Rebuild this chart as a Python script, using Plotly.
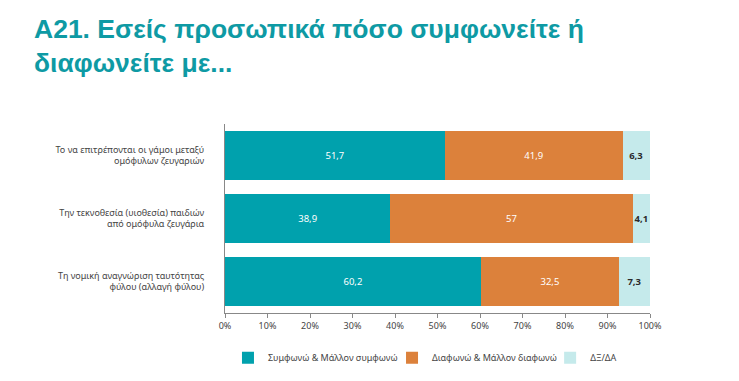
import plotly.graph_objects as go

categories = [
    "Το να επιτρέπονται οι γάμοι μεταξύ<br>ομόφυλων ζευγαριών",
    "Την τεκνοθεσία (υιοθεσία) παιδιών<br>από ομόφυλα ζευγάρια",
    "Τη νομική αναγνώριση ταυτότητας<br>φύλου (αλλαγή φύλου)",
]
agree = [51.7, 38.9, 60.2]
disagree = [41.9, 57.0, 32.5]
dkna = [6.3, 4.1, 7.3]
series_names = ["Συμφωνώ & Μάλλον συμφωνώ", "Διαφωνώ & Μάλλον διαφωνώ", "ΔΞ/ΔΑ"]
tick_vals = [0, 10, 20, 30, 40, 50, 60, 70, 80, 90, 100]
tick_text = ["0%", "10%", "20%", "30%", "40%", "50%", "60%", "70%", "80%", "90%", "100%"]

colors = ["#00a1ad", "#dc813b", "#c5eaeb"]
text_colors = ["white", "white", "#2b2b2b"]
bold = [False, False, True]
legend_ids = ["legend", "legend2", "legend3"]
legend_x = [0.007, 0.393, 0.765]


def fmt(v, b):
    s = f"{v:g}".replace(".", ",")
    return f"<b>{s}</b>" if b else s


fig = go.Figure()
for vals, name, col, tc, b, lg in zip([agree, disagree, dkna], series_names, colors,
                                       text_colors, bold, legend_ids):
    fig.add_trace(go.Bar(
        y=categories, x=vals, name=name, orientation="h",
        marker=dict(color=col, line=dict(width=0)),
        text=[fmt(v, b) for v in vals], textposition="inside", textangle=0,
        insidetextanchor="middle", constraintext="none",
        textfont=dict(color=tc, size=9.5, family="Noto Sans"),
        hoverinfo="skip", legend=lg,
    ))

legend_common = dict(orientation="h", y=-0.16, yanchor="top", xanchor="left",
                     font=dict(size=9, color="#444444"), itemwidth=30,
                     bgcolor="rgba(0,0,0,0)")
fig.update_layout(
    barmode="stack",
    bargap=0.22,
    width=739, height=381,
    margin=dict(l=217, r=97, t=116, b=76, autoexpand=False),
    paper_bgcolor="white", plot_bgcolor="white",
    font=dict(family="Noto Sans", color="#444444", size=9),
    showlegend=True,
    legend=dict(x=legend_x[0], **legend_common),
    legend2=dict(x=legend_x[1], **legend_common),
    legend3=dict(x=legend_x[2], **legend_common),
)
fig.update_xaxes(range=[0, 100], tickvals=tick_vals, ticktext=tick_text,
                 showgrid=False, zeroline=False, showline=True, linecolor="#888888",
                 linewidth=1, ticks="outside", ticklen=4, tickcolor="#888888",
                 tickfont=dict(size=9, color="#444444"), fixedrange=True)
fig.update_yaxes(autorange="reversed", showgrid=False, showline=True,
                 linecolor="#888888", linewidth=1, ticks="", ticklabelstandoff=18,
                 tickfont=dict(size=9, color="#444444"), fixedrange=True)

fig.add_annotation(
    text="<b>Α21. Εσείς προσωπικά πόσο συμφωνείτε ή<br>διαφωνείτε με...</b>",
    xref="paper", yref="paper", x=-0.455, y=1.59, xanchor="left", yanchor="top",
    align="left", showarrow=False,
    font=dict(family="Liberation Sans, Arial", size=26.5, color="#0e9aa4"),
)

fig.write_html("out.html")
